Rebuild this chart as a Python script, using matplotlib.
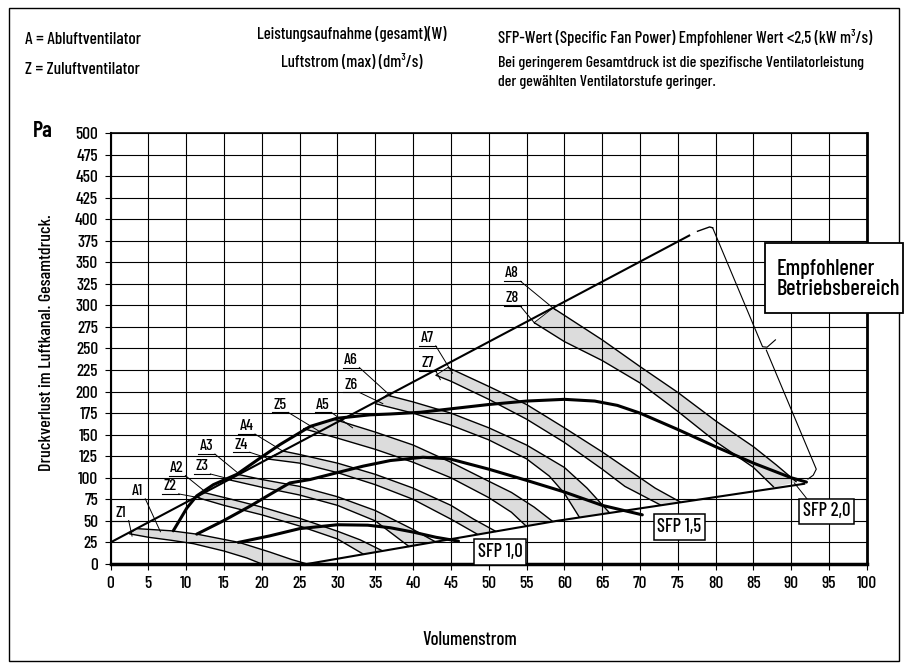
import matplotlib
matplotlib.use("Agg")
import matplotlib.pyplot as plt
from matplotlib.patches import Rectangle, Polygon

plt.rcParams['font.family'] = ['Barlow Condensed', 'Roboto Condensed', 'Archivo Narrow',
                               'PT Sans Narrow', 'Liberation Sans Narrow', 'DejaVu Sans']
plt.rcParams['font.weight'] = 'medium'

# --- data (x = Volumenstrom, y = Pa) ---
x_ticks = list(range(0, 101, 5))
y_ticks = list(range(0, 501, 25))

# fan curves: A = Abluft (upper edge), Z = Zuluft (lower edge)
A1 = [(3.5, 41), (8, 38.5), (11.5, 34.5), (17, 25), (21, 14), (24, 5), (26, 0)]
Z1 = [(2.5, 35), (5, 31), (8, 27.5), (11, 23.5), (15, 15), (18, 7), (20, 0)]
A2 = [(12.3, 83), (16, 75), (20, 66), (25, 53), (30, 38), (33, 28), (36, 15)]
Z2 = [(11.5, 77), (15, 68), (20, 57), (25, 44), (30, 29), (33.5, 11)]
A3 = [(16.8, 104), (20, 98), (25, 90), (30, 78), (35, 62), (40, 40), (43, 25.5)]
Z3 = [(15.5, 98), (20, 89), (25, 80), (30, 68), (35, 50), (39.5, 20)]
A4 = [(22.8, 131), (25, 127), (30, 117), (35, 104), (40, 88), (45, 68), (48, 52), (51, 37.5)]
Z4 = [(20.6, 122), (25, 117), (30, 106), (35, 92), (40, 75), (45, 52), (48.5, 34.5)]
A5 = [(29.5, 168), (35, 153), (40, 138), (45, 118), (50, 96), (53, 83), (56, 66), (58.5, 49)]
Z5 = [(25.5, 157), (30, 146), (35, 133), (40, 118), (45, 100), (50, 77), (53, 60), (55, 43.5)]
A6 = [(36.5, 196), (40, 188), (45, 175), (50, 158), (55, 138), (60, 112), (63, 88), (66, 59)]
Z6 = [(35, 186), (40, 175), (45, 161), (50, 144), (55, 122), (58, 102), (60, 82), (62, 54)]
A7 = [(44.6, 228), (50, 206), (55, 185), (60, 158), (65, 130), (68, 112), (72, 88), (75.4, 71.5)]
Z7 = [(43, 219), (45, 212), (50, 191), (55, 168), (60, 141), (65, 110), (68, 90), (72.8, 68)]
A8 = [(58.5, 297), (65, 260), (70, 229), (75, 199), (80, 166), (85, 136), (88, 115), (90.7, 95)]
Z8 = [(56, 280), (60, 258), (65, 236), (70, 210), (75, 177), (80, 142), (85, 112), (87.7, 89)]

bands = [(A1, Z1), (A2, Z2), (A3, Z3), (A4, Z4), (A5, Z5), (A6, Z6), (A7, Z7), (A8, Z8)]

# SFP iso lines
sfp10 = [(16.9, 25), (21, 32.5), (25, 41), (30, 45.5), (34, 45), (37, 42), (40, 37), (43, 31), (46, 26.5)]
sfp15 = [(11.4, 34.6), (14.9, 50), (18.5, 67.3), (21.1, 80.8), (23.7, 94), (26.4, 98), (29.9, 105.8),
         (33.4, 113.5), (37, 120), (41.3, 123.8), (44.8, 122), (50, 110), (55, 97), (60, 83.5),
         (65, 68), (70.3, 57)]
sfp20 = [(8.3, 38.5), (10.1, 65), (11.4, 79), (13.6, 92), (16.7, 104), (19.8, 123), (22.4, 138.5),
         (26.4, 159.6), (29.9, 169), (34.3, 173), (37, 174), (41, 176), (45, 180), (50, 185),
         (55, 189), (60, 191), (64, 189), (67, 184), (70, 175), (75, 156), (80, 136), (85, 117),
         (90, 100), (92, 95)]

# recommended range boundary
upper_line = [(0, 25), (76.5, 381)]
upper_stub = [(77.6, 386), (79.2, 391), (79.6, 390)]
lower_line = [(26, 0), (59, 50), (91.7, 93)]
right_line1 = [(79.6, 390), (86.2, 252), (86.8, 251.5), (87.9, 260)]
right_line2 = [(86.7, 248), (93.3, 110), (92.9, 103), (92.2, 98.5)]

labels = ['A1', 'Z1', 'A2', 'Z2', 'A3', 'Z3', 'A4', 'Z4', 'Z5', 'A5', 'A6', 'Z6', 'A7', 'Z7', 'A8', 'Z8']
label_pos = [(3.5, 84.6), (1.3, 59.4), (8.8, 111.5), (7.9, 90.3), (12.7, 136.5), (12.1, 113.4),
             (18, 159.7), (17.3, 138.6), (22.4, 184.8), (28.1, 184.8), (31.8, 236.9), (31.8, 208),
             (41.9, 262), (41.9, 233), (53.1, 337), (53.1, 308)]
label_tip = [(6.6, 37.4), (2.85, 32.4), (12.5, 84), (11.8, 76.7), (17.1, 103.7), (16, 98),
             (22.8, 130.8), (21, 122), (27.6, 153.9), (32, 158), (37.1, 194.4), (36, 186),
             (45.2, 221.4), (43.6, 213.8), (58.8, 294.8), (56.1, 279)]

sfp_boxes = ['SFP 1,0', 'SFP 1,5', 'SFP 2,0']
sfp_box_pos = [(51.5, 14), (75.2, 43), (94.7, 61)]


def xs(pts):
    return [p[0] for p in pts]


def ys(pts):
    return [p[1] for p in pts]


fig = plt.figure(figsize=(9.08, 6.69), dpi=100)
ax = fig.add_axes([0.1217, 0.157, 0.9548 - 0.1217, 0.8012 - 0.157])

# bands
for a, z in bands:
    poly = Polygon(a + z[::-1], closed=True, facecolor='#dcdcdc', edgecolor='none', zorder=1)
    ax.add_patch(poly)
    ax.plot(xs(a), ys(a), color='black', lw=1.0, zorder=3, solid_capstyle='butt')
    ax.plot(xs(z), ys(z), color='black', lw=1.0, zorder=3, solid_capstyle='butt')
    ax.plot([z[0][0], a[0][0]], [z[0][1], a[0][1]], color='black', lw=0.6, zorder=3)

# boundary of recommended range
ax.plot(xs(upper_line), ys(upper_line), color='black', lw=1.5, zorder=4)
ax.plot(xs(upper_stub), ys(upper_stub), color='black', lw=1.0, zorder=4)
ax.plot(xs(lower_line), ys(lower_line), color='black', lw=1.5, zorder=4)
ax.plot(xs(right_line1), ys(right_line1), color='black', lw=0.8, zorder=4)
ax.plot(xs(right_line2), ys(right_line2), color='black', lw=0.8, zorder=4)

# SFP curves
for c in (sfp10, sfp15, sfp20):
    ax.plot(xs(c), ys(c), color='black', lw=2.2, zorder=5, solid_capstyle='round')

# leader to SFP 2,0 box
ax.plot([90.4, 92.3], [94, 73], color='black', lw=0.7, zorder=5)

# fan labels, underlined with leader lines
for name, (lx, ly), (tx, ty) in zip(labels, label_pos, label_tip):
    ax.text(lx, ly, name, ha='center', va='center', fontsize=11.5, zorder=6)
    uy = ly - 9
    ax.plot([lx - 1.1, lx + 1.1], [uy, uy], color='black', lw=0.8, zorder=6)
    ax.plot([lx + 1.1, tx], [uy, ty], color='black', lw=0.7, zorder=6)

for name, (bx, by) in zip(sfp_boxes, sfp_box_pos):
    ax.text(bx, by, name, ha='center', va='center', fontsize=13.5, zorder=7,
            bbox=dict(boxstyle='square,pad=0.2', facecolor='white', edgecolor='black', lw=1.1))

ax.set_xlim(0, 100)
ax.set_ylim(0, 500)
ax.set_xticks(x_ticks)
ax.set_yticks(y_ticks)
ax.grid(True, color='black', lw=0.8)
ax.set_axisbelow(False)
ax.tick_params(direction='out', length=4, width=0.8, labelsize=12.5, pad=5)
for side, w in (('left', 1.5), ('bottom', 2.5), ('top', 1.2), ('right', 2.0)):
    ax.spines[side].set_linewidth(w)

# header texts
W, H = 908.0, 669.0
def ft(px, py, s, **kw):
    fig.text(px / W, 1 - py / H, s, va='center', **kw)

ft(25, 40, 'A = Abluftventilator', fontsize=12.5)
ft(25, 69, 'Z = Zuluftventilator', fontsize=12.5)
ft(352, 34, 'Leistungsaufnahme (gesamt)(W)', fontsize=12, ha='center')
ft(352, 62, 'Luftstrom (max) (dm³/s)', fontsize=12, ha='center')
ft(498, 37, 'SFP-Wert (Specific Fan Power) Empfohlener Wert <2,5 (kW m³/s)', fontsize=12)
ft(498, 63, 'Bei geringerem Gesamtdruck ist die spezifische Ventilatorleistung', fontsize=11.5)
ft(498, 82, 'der gewählten Ventilatorstufe geringer.', fontsize=11.5)
ft(43, 131, 'Pa', fontsize=16, ha='center', fontweight='semibold')
ft(470, 640, 'Volumenstrom', fontsize=13.5, ha='center')
fig.text(47 / W, 1 - 343 / H, 'Druckverlust im Luftkanal. Gesamtdruck.', rotation=90,
         ha='center', va='center', fontsize=13)

# recommended range box
fig.patches.append(Rectangle((765 / W, 1 - 313 / H), (903 - 765) / W, 70 / H,
                             transform=fig.transFigure, facecolor='white', edgecolor='black',
                             lw=1.3, zorder=10))
fig.text(777 / W, 1 - 279 / H, 'Empfohlener\nBetriebsbereich', fontsize=16, va='center',
         linespacing=1.0, zorder=11)

# outer frame
fig.patches.append(Rectangle((9 / W, 1 - 661 / H), (899 - 9) / W, (661 - 8) / H,
                             transform=fig.transFigure, facecolor='none', edgecolor='black',
                             lw=1.0, zorder=9))

fig.savefig('out.png', dpi=100)
